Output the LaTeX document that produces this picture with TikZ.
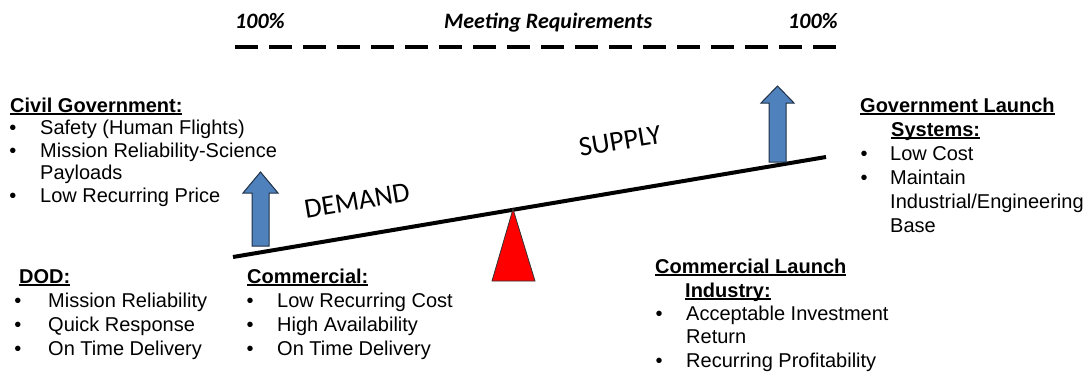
\documentclass[tikz,border=0pt]{standalone}
\usepackage{fontspec}
\setmainfont{Liberation Sans}
\newfontfamily\calib{Carlito}
\definecolor{arrowblue}{HTML}{4F81BD}
\definecolor{edgedark}{HTML}{1F2F45}
\newcommand\ulin[1]{\setbox0=\hbox{#1}\rlap{\rule[-3pt]{\wd0}{1.6pt}}\box0}
\tikzset{
  txt/.style={anchor=base west, inner sep=0pt, font=\fontsize{20}{24}\selectfont},
  head/.style={anchor=base west, inner sep=0pt, font=\fontsize{20}{24}\selectfont\bfseries},
  bul/.style={anchor=base, inner sep=0pt, font=\fontsize{20}{24}\selectfont},
  lbl/.style={inner sep=0pt, font=\calib\fontsize{28}{32}\selectfont, rotate=9.5},
  toplbl/.style={anchor=base west, inner sep=0pt, font=\calib\bfseries\itshape\fontsize{22}{26}\selectfont},
  uparrow/.style={fill=arrowblue, draw=edgedark, line width=1pt, line join=miter},
  fulcrum/.style={fill=red, draw=black!80, line width=0.8pt, line join=miter},
}
\begin{document}
\begin{tikzpicture}[x=1pt,y=-1pt]
\useasboundingbox (0,0) rectangle (1086,375);
% top
\node[toplbl] (pl) at (235,28) {100\%};
\node[toplbl] (meet) at (444,28) {Meeting Requirements};
\node[toplbl] (pr) at (788,28) {100\%};
\coordinate (dl) at (235,47);
\coordinate (dr) at (836,47);
\draw[line width=4pt, dash pattern=on 23pt off 11pt] (dl) -- (dr);
% lever
\coordinate (levL) at (233,257);
\coordinate (levR) at (826,157);
\draw[line width=4pt] (levL) -- (levR);
% fulcrum
\draw[fulcrum] (513,209) -- (535,281) -- (492,281) -- cycle;
% arrows
\draw[uparrow] (252,246) -- (252,193) -- (243,193) -- (260.5,172) -- (278,193) -- (269,193) -- (269,246) -- cycle;
\draw[uparrow] (769,162) -- (769,103) -- (761,103) -- (777.5,86) -- (794,103) -- (786,103) -- (786,162) -- cycle;
% lever labels
\node[lbl] (demand) at (357,201) {DEMAND};
\node[lbl] (supply) at (620,141) {SUPPLY};
% Civil Government
\node[head] (civh) at (10,112) {\ulin{Civil Government:}};
\node[bul] (civb1) at (13,134) {•};
\node[bul] (civb2) at (13,157) {•};
\node[bul] (civb3) at (13,202) {•};
\node[txt] (civ1) at (40,134) {Safety (Human Flights)};
\node[txt] (civ2) at (40,157) {Mission Reliability-Science};
\node[txt] (civ2b) at (40,179) {Payloads};
\node[txt] (civ3) at (40,202) {Low Recurring Price};
% DOD
\node[head] (dodh) at (19,283) {\ulin{DOD:}};
\node[bul] (dodb1) at (18,307) {•};
\node[bul] (dodb2) at (18,331) {•};
\node[bul] (dodb3) at (18,355) {•};
\node[txt] (dod1) at (48,307) {Mission Reliability};
\node[txt] (dod2) at (48,331) {Quick Response};
\node[txt] (dod3) at (48,355) {On Time Delivery};
% Commercial
\node[head] (comh) at (247,283) {\ulin{Commercial:}};
\node[bul] (comb1) at (250,307) {•};
\node[bul] (comb2) at (250,331) {•};
\node[bul] (comb3) at (250,355) {•};
\node[txt] (com1) at (277,307) {Low Recurring Cost};
\node[txt] (com2) at (277,331) {High Availability};
\node[txt] (com3) at (277,355) {On Time Delivery};
% Government Launch Systems
\node[head] (govh1) at (860,112) {\ulin{Government Launch}};
\node[head] (govh2) at (891,136) {\ulin{Systems:}};
\node[bul] (govb1) at (864,160) {•};
\node[bul] (govb2) at (864,184) {•};
\node[txt] (gov1) at (890,160) {Low Cost};
\node[txt] (gov2) at (890,184) {Maintain};
\node[txt] (gov2b) at (890,208) {Industrial/Engineering};
\node[txt] (gov2c) at (890,232) {Base};
% Commercial Launch Industry
\node[head] (clih1) at (655,273) {\ulin{Commercial Launch}};
\node[head] (clih2) at (685,297) {\ulin{Industry:}};
\node[bul] (clib1) at (659,320) {•};
\node[bul] (clib2) at (659,367) {•};
\node[txt] (cli1) at (686,320) {Acceptable Investment};
\node[txt] (cli1b) at (686,343) {Return};
\node[txt] (cli2) at (686,367) {Recurring Profitability};
\end{tikzpicture}
\end{document}
